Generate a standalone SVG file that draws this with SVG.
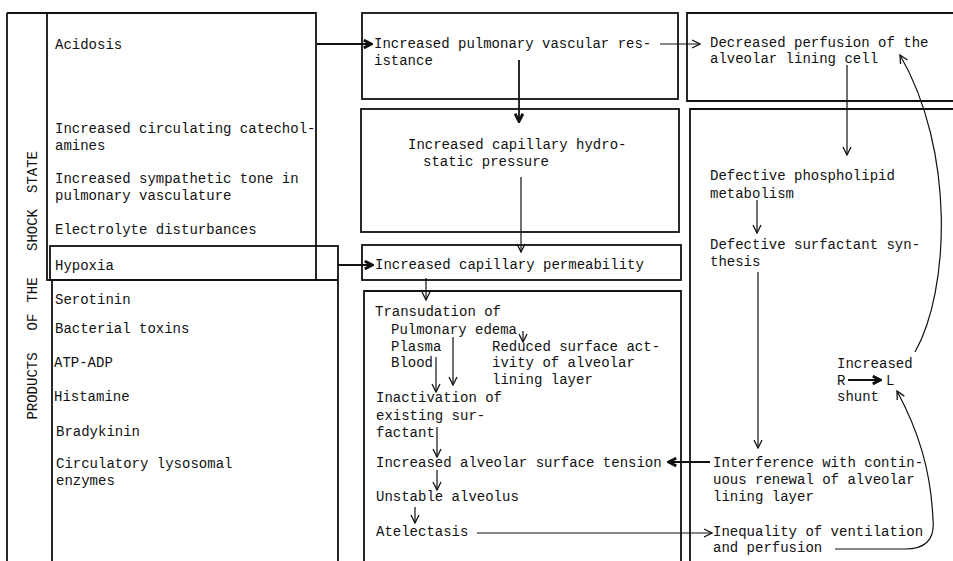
<svg xmlns="http://www.w3.org/2000/svg" width="953" height="561" viewBox="0 0 953 561">
<defs>
<style>
text{font-family:"Liberation Mono","Courier New",monospace;font-size:14px;fill:#111}
.box{fill:none;stroke:#111;stroke-width:1.8}
.c{fill:none;stroke:#111;stroke-width:1.2}
.b{fill:none;stroke:#111;stroke-width:1.8}
</style>
<marker id="open" viewBox="0 0 10 10" refX="9" refY="5" markerWidth="10" markerHeight="10" markerUnits="userSpaceOnUse" orient="auto">
<path d="M1,1 L9,5 L1,9" fill="none" stroke="#111" stroke-width="1.3"/>
</marker>
<marker id="bold" viewBox="0 0 10 10" refX="9" refY="5" markerWidth="11" markerHeight="11" markerUnits="userSpaceOnUse" orient="auto">
<path d="M1.5,1.5 L8.5,5 L1.5,8.5" fill="none" stroke="#111" stroke-width="2.6"/>
</marker>
</defs>
<rect width="953" height="561" fill="#fff"/>

<g id="frame-left">
<path class="box" d="M7,13 H316 M7,13 V561"/>
<text transform="translate(37,386) rotate(-90)" text-anchor="middle">PRODUCTS</text>
<text transform="translate(37,322) rotate(-90)" text-anchor="middle">OF</text>
<text transform="translate(37,290) rotate(-90)" text-anchor="middle">THE</text>
<text transform="translate(37,230) rotate(-90)" text-anchor="middle">SHOCK</text>
<text transform="translate(37,172) rotate(-90)" text-anchor="middle">STATE</text>
</g>

<g id="shock-upper">
<rect class="box" x="47" y="13" width="269" height="267"/>
<text x="55" y="49">Acidosis</text>
<text x="55" y="133">Increased circulating catechol-</text>
<text x="55" y="150">amines</text>
<text x="55" y="183">Increased sympathetic tone in</text>
<text x="55" y="200">pulmonary vasculature</text>
<text x="55" y="234">Electrolyte disturbances</text>
</g>

<g id="hypoxia">
<rect class="box" x="50" y="246" width="288" height="34"/>
<text x="55" y="270">Hypoxia</text>
</g>

<g id="shock-lower">
<path class="box" d="M52,561 V280 H338 V561"/>
<text x="55" y="304">Serotinin</text>
<text x="55" y="333">Bacterial toxins</text>
<text x="54" y="367">ATP-ADP</text>
<text x="54" y="401">Histamine</text>
<text x="56" y="436">Bradykinin</text>
<text x="56" y="468">Circulatory lysosomal</text>
<text x="56" y="485">enzymes</text>
</g>

<g id="pvr">
<rect class="box" x="362" y="13" width="316" height="86"/>
<text x="374" y="48">Increased pulmonary vascular res-</text>
<text x="374" y="65">istance</text>
</g>

<g id="hydrostatic">
<rect class="box" x="361" y="109" width="318" height="123"/>
<text x="408" y="149">Increased capillary hydro-</text>
<text x="423" y="166">static pressure</text>
</g>

<g id="permeability">
<rect class="box" x="362" y="245" width="319" height="35"/>
<text x="375" y="269">Increased capillary permeability</text>
</g>

<g id="alveolar">
<path class="box" d="M364,561 V291 H681 V561"/>
<text x="375" y="316">Transudation of</text>
<text x="391" y="334">Pulmonary edema</text>
<text x="391" y="351">Plasma</text>
<text x="391" y="367">Blood</text>
<text x="492" y="351">Reduced surface act-</text>
<text x="492" y="367">ivity of alveolar</text>
<text x="492" y="384">lining layer</text>
<text x="376" y="402">Inactivation of</text>
<text x="376" y="420">existing sur-</text>
<text x="376" y="437">factant</text>
<text x="376" y="467">Increased alveolar surface tension</text>
<text x="376" y="501">Unstable alveolus</text>
<text x="376" y="536">Atelectasis</text>
</g>

<g id="perfusion">
<path class="box" d="M953,13 H687 V101 H953"/>
<text x="710" y="47">Decreased perfusion of the</text>
<text x="710" y="63">alveolar lining cell</text>
</g>

<g id="surfactant">
<path class="box" d="M953,109 H690 V561"/>
<text x="710" y="180">Defective phospholipid</text>
<text x="710" y="198">metabolism</text>
<text x="710" y="249">Defective surfactant syn-</text>
<text x="710" y="266">thesis</text>
<text x="837" y="368">Increased</text>
<text x="837" y="385">R</text>
<text x="886" y="385">L</text>
<text x="837" y="401">shunt</text>
<text x="713" y="467">Interference with contin-</text>
<text x="713" y="484">uous renewal of alveolar</text>
<text x="713" y="501">lining layer</text>
<text x="713" y="536">Inequality of ventilation</text>
<text x="713" y="552">and perfusion</text>
</g>

<g id="connectors">
<path class="b" d="M317,44 H372" marker-end="url(#bold)"/>
<path class="c" d="M660,44 H700" marker-end="url(#open)"/>
<path class="b" d="M519,60 V122" marker-end="url(#bold)"/>
<path class="c" d="M521,177 V252" marker-end="url(#open)"/>
<path class="b" d="M338,265 H373" marker-end="url(#bold)"/>
<path class="c" d="M426,278 V300" marker-end="url(#open)"/>
<path class="c" d="M523,331 V342" marker-end="url(#open)"/>
<path class="c" d="M436,357 V392" marker-end="url(#open)"/>
<path class="c" d="M453,337 V385" marker-end="url(#open)"/>
<path class="c" d="M437,427 V457" marker-end="url(#open)"/>
<path class="c" d="M437,470 V490" marker-end="url(#open)"/>
<path class="c" d="M415,507 V523" marker-end="url(#open)"/>
<path class="c" d="M477,533 H712" marker-end="url(#open)"/>
<path class="c" d="M847,65 V155" marker-end="url(#open)"/>
<path class="c" d="M757,200 V233" marker-end="url(#open)"/>
<path class="c" d="M758,272 V448" marker-end="url(#open)"/>
<path class="b" d="M710,462 H668" marker-end="url(#bold)"/>
<path class="b" d="M848,380 H881" marker-end="url(#bold)"/>
<path class="c" d="M915,352 C950,290 955,150 900,55" marker-end="url(#open)"/>
<path class="c" d="M835,549 L905,549 C925,549 935,540 933,520 C931,470 918,430 897,391" marker-end="url(#open)"/>
</g>
</svg>
